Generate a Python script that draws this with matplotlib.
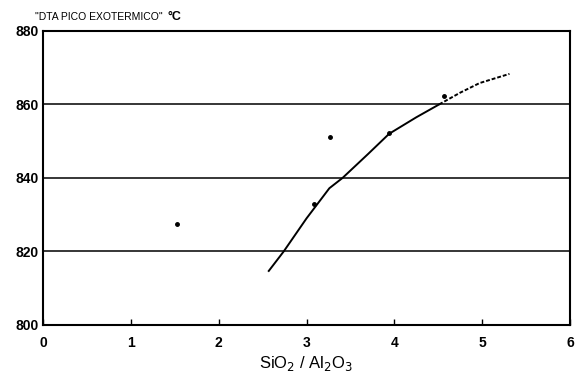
import matplotlib.pyplot as plt
import numpy as np

plt.rcParams['font.family'] = ['Liberation Sans', 'DejaVu Sans']

# measured points (SiO2/Al2O3 ratio vs DTA exothermic peak, degC)
ratio_pts = [1.52, 3.08, 3.27, 3.94, 4.56]
peak_pts = [827.4, 833.0, 851.1, 852.2, 862.3]

# hand drawn trend curve
curve_x = [2.57, 2.74, 3.0, 3.26, 3.41, 3.7, 3.94, 4.25, 4.51]
curve_y = [814.7, 820.0, 829.0, 837.2, 840.0, 846.5, 852.0, 856.5, 860.0]
curve_x2 = [4.51, 4.75, 4.97, 5.31]
curve_y2 = [860.0, 863.2, 865.8, 868.3]

yticks = [800, 820, 840, 860, 880]
xticks = [0, 1, 2, 3, 4, 5, 6]

fig = plt.figure(figsize=(5.77, 3.81), dpi=100)
ax = fig.add_axes([0.0745, 0.147, 0.9135, 0.772])

for g in [820, 840, 860]:
    ax.axhline(g, color='black', lw=1.1, zorder=1)

ax.plot(curve_x, curve_y, color='black', lw=1.4)
ax.plot(curve_x2, curve_y2, color='black', lw=1.4, ls=(0, (2, 1)))
ax.plot(ratio_pts, peak_pts, 'o', color='black', ms=2.5)

ax.set_xlim(0, 6)
ax.set_ylim(800, 880)
ax.set_xticks(xticks)
ax.set_yticks(yticks)
ax.tick_params(axis='x', direction='in', length=4, width=1, labelsize=10, pad=8)
ax.tick_params(axis='y', length=0, labelsize=10, pad=3)
for lab in ax.get_xticklabels() + ax.get_yticklabels():
    lab.set_fontweight('bold')
for s in ax.spines.values():
    s.set_linewidth(1.5)

ax.set_xlabel('SiO$_2$ / Al$_2$O$_3$', fontsize=12, labelpad=3)
title = fig.text(0.06, 0.955, '"DTA PICO EXOTERMICO"', fontsize=7.5, va='center',
                 family=['Liberation Sans Narrow', 'Liberation Sans', 'DejaVu Sans'])
ax.annotate('°C', xy=(1, 0.5), xycoords=title, xytext=(4, 0),
            textcoords='offset points', fontsize=9, fontweight='bold', va='center')

fig.savefig('out.png', dpi=100)
